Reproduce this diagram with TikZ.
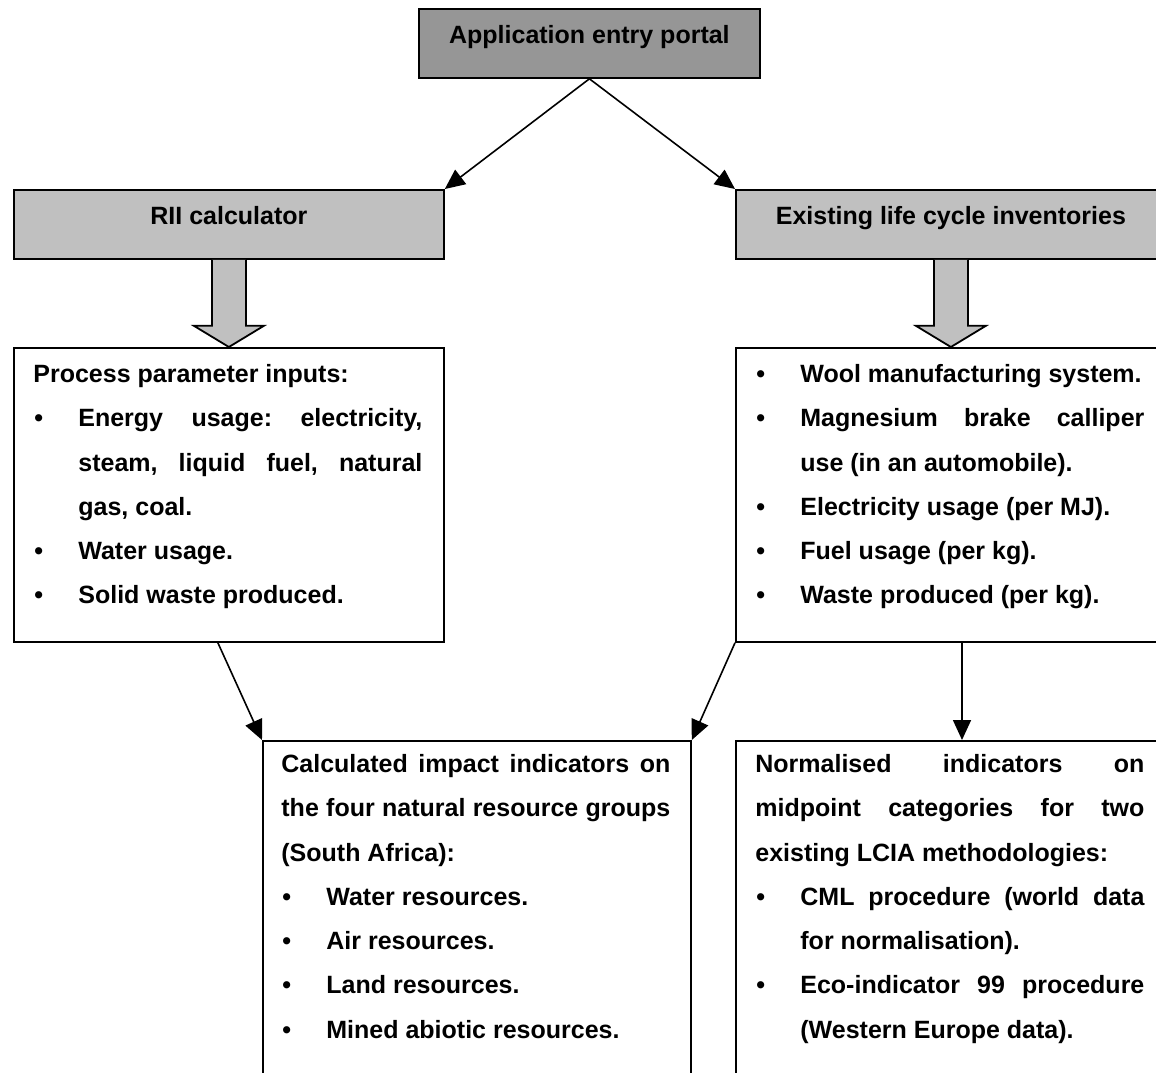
\documentclass[tikz,border=0pt]{standalone}
\usepackage{fontspec}
\setmainfont{Liberation Sans}
\usetikzlibrary{calc,arrows.meta}
\definecolor{darkfill}{HTML}{969696}
\definecolor{lightfill}{HTML}{C0C0C0}
\hbadness=10000
\hfuzz=5pt
\frenchspacing
\newcommand\fst{\rule{0pt}{15.5pt}}
\newcommand\bstart[1]{\hangindent=22.5pt\hangafter=1\noindent\makebox[22.5pt][l]{\hspace{0.5pt}•}#1}
\newcommand\bitem[1]{\par\bstart{#1}}
\tikzset{
  boxbase/.style={draw, line width=0.9pt, inner sep=0pt, anchor=north west},
  hdr/.style={boxbase, font=\fontsize{12.5}{15}\selectfont\bfseries, text height=9pt, text depth=9pt},
  bodytxt/.style={inner sep=0pt, anchor=north west, text width=194.5pt, align=justify,
    font=\fontsize{12.5}{22.15}\selectfont\bfseries},
  conn/.style={line width=0.8pt, -{Triangle[length=10pt,width=9pt]}},
  blockarrow/.style={draw, line width=0.9pt, fill=lightfill, line join=miter}
}
\begin{document}
\begin{tikzpicture}[x=0.5pt, y=-0.5pt]
\clip (0,0) rectangle (1156,1072);
\fill[white] (0,0) rectangle (1156,1072);

% header boxes
\node[hdr, fill=darkfill, minimum width=170.5pt, minimum height=34.5pt] (top) at (418,8) {Application entry portal};
\node[hdr, fill=lightfill, minimum width=215pt, minimum height=34.5pt] (rii) at (13,189) {RII calculator};
\node[hdr, fill=lightfill, minimum width=215pt, minimum height=34.5pt] (ex) at (735,189) {Existing life cycle inventories};

% content boxes
\node[boxbase, minimum width=215pt, minimum height=147pt] (proc) at (13,347) {};
\node[boxbase, minimum width=215pt, minimum height=147pt] (wool) at (735,347) {};
\node[boxbase, minimum width=214pt, minimum height=180pt] (calc) at (262,740) {};
\node[boxbase, minimum width=215pt, minimum height=180pt] (norm) at (735,740) {};

% texts
\node[bodytxt] (proctxt) at ($(proc.north west)+(20,4)$) {\noindent\fst Process parameter inputs:
\bitem{Energy usage: electricity,\linebreak steam, liquid fuel, natural\linebreak gas, coal.}
\bitem{Water usage.}
\bitem{Solid waste produced.}\par};

\node[bodytxt] (wooltxt) at ($(wool.north west)+(20,4)$) {\bstart{\fst Wool manufacturing system.}
\bitem{Magnesium brake calliper\linebreak use (in an automobile).}
\bitem{Electricity usage (per MJ).}
\bitem{Fuel usage (per kg).}
\bitem{Waste produced (per kg).}\par};

\node[bodytxt] (calctxt) at ($(calc.north west)+(19,1)$) {\noindent\fst Calculated impact indicators on\linebreak the four natural resource groups\linebreak (South Africa):
\bitem{Water resources.}
\bitem{Air resources.}
\bitem{Land resources.}
\bitem{Mined abiotic resources.}\par};

\node[bodytxt] (normtxt) at ($(norm.north west)+(20,1)$) {\noindent\fst Normalised indicators on\linebreak midpoint categories for two\linebreak existing LCIA methodologies:
\bitem{CML procedure (world data\linebreak for normalisation).}
\bitem{Eco-indicator 99 procedure\linebreak (Western Europe data).}\par};

% block arrows
\draw[blockarrow] ($(rii.south)+(-17,0)$) -- ($(rii.south)+(-17,66)$) -- ($(rii.south)+(-35,66)$)
  -- (proc.north) -- ($(rii.south)+(35,66)$) -- ($(rii.south)+(17,66)$) -- ($(rii.south)+(17,0)$);
\draw[blockarrow] ($(ex.south)+(-17,0)$) -- ($(ex.south)+(-17,66)$) -- ($(ex.south)+(-35,66)$)
  -- (wool.north) -- ($(ex.south)+(35,66)$) -- ($(ex.south)+(17,66)$) -- ($(ex.south)+(17,0)$);

% connectors
\draw[conn] (top.south) -- (rii.north east);
\draw[conn] (top.south) -- (ex.north west);
\draw[conn] ($(proc.south)+(-11,0)$) -- (calc.north west);
\draw[conn] (wool.south west) -- (calc.north east);
\draw[conn] ($(wool.south west)+(227,0)$) -- ($(norm.north west)+(227,0)$);
\end{tikzpicture}
\end{document}
